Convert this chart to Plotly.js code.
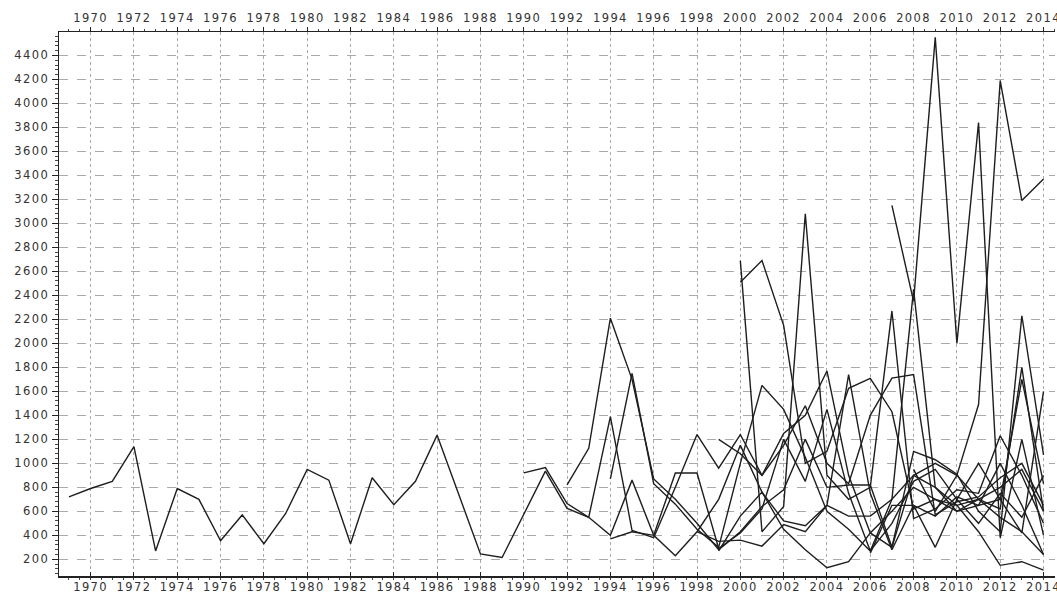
<!DOCTYPE html>
<html>
<head>
<meta charset="utf-8">
<script src="https://cdn.plot.ly/plotly-3.0.1.min.js"></script>
<style>
body{margin:0;background:#fff}
#chart{width:1057px;height:594px}
#chart .xtick text, #chart .x2tick text, #chart .ytick text{letter-spacing:1.4px}
</style>
</head>
<body>
<div id="chart"></div>
<script>
// Years
const yearsLong = [1969,1970,1971,1972,1973,1974,1975,1976,1977,1978,1979,1980,1981,1982,1983,1984,1985,1986,1987,1988,1989,1990,1991,1992,1993,1994,1995,1996,1997,1998,1999,2000,2001,2002,2003,2004,2005,2006,2007,2008,2009,2010,2011,2012,2013,2014];
const yearsRecent = [1990,1991,1992,1993,1994,1995,1996,1997,1998,1999,2000,2001,2002,2003,2004,2005,2006,2007,2008,2009,2010,2011,2012,2013,2014];

// Series values
const seriesH = [720,790,850,1140,270,790,700,355,570,330,580,950,860,330,880,655,850,1235,740,245,215,580,935,
                 625,550,400,860,400,230,430,700,1150,760,520,480,650,1740,750,280,650,560,720,650,1000,650,240];
const seriesB = [920,965,665,550,1390,440,380,800,1240,960,1240,900,1250,1400,1770,900,420,300,900,800,600,700,800,950,600];
const seriesC = [null,null,820,1125,2210,1700,870,700,500,280,430,640,780,1200,800,820,820,300,1100,1030,910,600,430,2230,1070];
const seriesD = [null,null,null,null,870,1750,830,660,450,300,1000,1650,1450,1050,600,450,270,700,2450,800,650,700,620,1800,600];
const seriesE = [null,null,null,null,370,430,400,920,920,290,420,620,1200,850,1450,750,270,500,850,950,700,500,750,550,900];
const seriesF = [null,null,null,null,null,null,null,null,null,1200,1080,900,1150,1480,1000,830,1400,1710,1740,570,680,720,880,1000,650];
const seriesG = [null,null,null,null,null,null,null,null,null,null,2690,430,640,3080,900,700,800,2270,540,620,780,750,1230,900,500];
const seriesI = [null,null,null,null,null,null,null,null,null,null,2510,2690,2150,1000,1100,1625,1708,1430,620,700,600,650,700,1700,830];
const seriesJ = [null,null,null,null,null,null,null,null,null,null,null,null,null,null,null,null,null,3150,2350,4550,2000,3840,380,1200,400];
const seriesK = [null,null,null,null,null,null,null,null,null,null,null,null,null,null,null,null,null,null,950,600,900,1490,4190,3190,3370];
const seriesL = [null,null,null,null,null,null,null,null,430,350,360,310,490,430,650,560,560,700,900,1000,900,700,550,430,240];
const seriesM = [null,null,null,null,null,null,null,null,null,270,560,760,450,280,130,180,420,600,800,700,650,430,150,180,110];
const seriesN = [null,null,null,null,null,null,null,null,null,null,null,null,null,null,null,null,250,650,650,300,700,1000,700,420,1600];

const xTickVals = [1970,1972,1974,1976,1978,1980,1982,1984,1986,1988,1990,1992,1994,1996,1998,2000,2002,2004,2006,2008,2010,2012,2014];

const lineStyle = {color:'#1e1e1e', width:1.4};
const recent = [seriesB,seriesC,seriesD,seriesE,seriesF,seriesG,seriesI,seriesJ,seriesK,seriesL,seriesM,seriesN];

const traces = [{x:yearsLong, y:seriesH, type:'scatter', mode:'lines', line:lineStyle, hoverinfo:'skip', showlegend:false}];
recent.forEach(s => traces.push({x:yearsRecent, y:s, type:'scatter', mode:'lines', line:lineStyle, connectgaps:false, hoverinfo:'skip', showlegend:false}));
traces.push({x:[1970], y:[null], xaxis:'x2', yaxis:'y', type:'scatter', mode:'markers', hoverinfo:'skip', showlegend:false});

const tickFont = {family:'DejaVu Sans, sans-serif', size:11.5, color:'#333'};
const xr = [1968.54, 2014.53];
const xBase = {
  range:xr, tickmode:'array', tickvals:xTickVals, tickcolor:'#222',
  showline:true, linecolor:'#222', linewidth:1.5, zeroline:false, tickfont:tickFont,
  ticklabeloverflow:'allow'
};

const layout = {
  width:1057, height:594,
  margin:{l:59, r:2, t:32, b:18},
  paper_bgcolor:'#fff', plot_bgcolor:'#fff', showlegend:false,
  xaxis:Object.assign({}, xBase, {side:'bottom', ticks:'inside', ticklen:4,
    showgrid:true, gridcolor:'#aaa', griddash:'dot', gridwidth:1,
    minor:{dtick:0.5, tick0:1970, ticks:'outside', ticklen:2, tickcolor:'#444', showgrid:false}}),
  xaxis2:Object.assign({}, xBase, {side:'top', overlaying:'x', ticks:'outside', ticklen:4, showgrid:false,
    minor:{dtick:0.5, tick0:1970, ticks:'outside', ticklen:2, tickcolor:'#444', showgrid:false}}),
  yaxis:{
    range:[61, 4595], tick0:0, dtick:200, ticks:'outside', ticklen:6, tickcolor:'#222',
    showline:true, linecolor:'#222', linewidth:1.5, zeroline:false, tickfont:tickFont,
    showgrid:true, gridcolor:'#aaa', griddash:'dash', gridwidth:1,
    minor:{dtick:40, ticks:'outside', ticklen:3, tickcolor:'#444', showgrid:false}
  }
};

Plotly.newPlot('chart', traces, layout, {staticPlot:true, displayModeBar:false});
</script>
</body>
</html>
